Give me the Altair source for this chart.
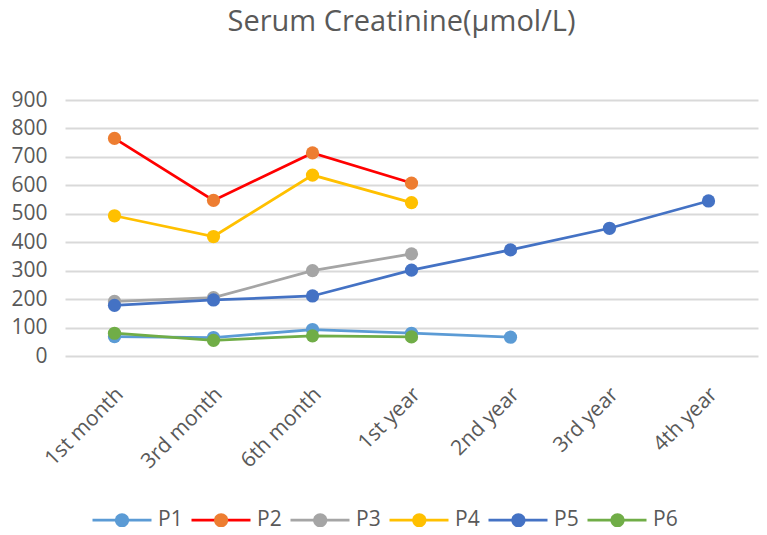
import altair as alt
import pandas as pd

categories = ["1st month", "3rd month", "6th month", "1st year", "2nd year", "3rd year", "4th year"]
series = ["P1", "P2", "P3", "P4", "P5", "P6"]
p1 = [68, 65, 93, 80, 66, None, None]
p2 = [765, 547, 714, 608, None, None, None]
p3 = [192, 205, 300, 359, None, None, None]
p4 = [493, 420, 636, 539, None, None, None]
p5 = [178, 197, 211, 302, 373, 449, 545]
p6 = [80, 55, 71, 67, None, None, None]
y_ticks = [0, 100, 200, 300, 400, 500, 600, 700, 800, 900]

line_colors = ["#5B9BD5", "#FF0000", "#A5A5A5", "#FFC000", "#4472C4", "#70AD47"]
marker_colors = ["#5B9BD5", "#ED7D31", "#A5A5A5", "#FFC000", "#4472C4", "#70AD47"]

rows = []
for name, vals in zip(series, [p1, p2, p3, p4, p5, p6]):
    for i, (cat, v) in enumerate(zip(categories, vals)):
        if v is not None:
            rows.append({"series": name, "marker": name + " ", "period": cat, "value": v, "order": i})
df = pd.DataFrame(rows)
marker_domain = [s + " " for s in series]

FONT = "Open Sans"
TXT = "#595959"

x_enc = alt.X("period:N", sort=categories,
              scale=alt.Scale(type="point", domain=categories, padding=0.5),
              axis=alt.Axis(title=None, labelAngle=-45, labelAlign="right", labelBaseline="middle",
                            labelOffset=5, labelPadding=35, domain=False, ticks=False, grid=False,
                            labelFontSize=21, labelColor=TXT, labelFont=FONT))
y_enc = alt.Y("value:Q", scale=alt.Scale(domain=[0, 900], nice=False, zero=True),
              axis=alt.Axis(title=None, values=y_ticks, domain=False, ticks=False, grid=True,
                            gridColor="#D9D9D9", gridWidth=2, labelPadding=18,
                            labelFontSize=21, labelColor=TXT, labelFont=FONT))

line_path = "M-1,0H1"
circle_path = "M-0.24,0A0.24,0.24,0,1,1,0.24,0A0.24,0.24,0,1,1,-0.24,0Z"

common = dict(title=None, orient="none", direction="horizontal", legendX=26, legendY=389,
              symbolSize=3481, symbolStrokeWidth=2.75,
              labelFontSize=21, labelFont=FONT, padding=0)

leg_lines = alt.Legend(symbolType=line_path, labelColor=TXT, labelOffset=5, columnPadding=3, **common)
leg_marks = alt.Legend(symbolType=circle_path, labelColor=TXT, labelExpr="''", labelOffset=0,
                       columnPadding=37.1, symbolStrokeColor="transparent", **common)

lines = alt.Chart(df).mark_line(strokeWidth=2.75).encode(
    x=x_enc, y=y_enc,
    stroke=alt.Stroke("series:N", scale=alt.Scale(domain=series, range=line_colors), legend=leg_lines),
    order=alt.Order("order:Q"),
)
points = alt.Chart(df).mark_point(filled=True, size=175, opacity=1, strokeWidth=0).encode(
    x=x_enc, y=y_enc,
    fill=alt.Fill("marker:N", scale=alt.Scale(domain=marker_domain, range=marker_colors), legend=leg_marks),
)

chart = alt.layer(lines, points).properties(
    width=693, height=256,
    background="white",
    title=alt.TitleParams("Serum Creatinine(μmol/L)", fontSize=29, font=FONT, color=TXT,
                          fontWeight="normal", anchor="middle", offset=29, baseline="alphabetic", dx=-10),
    autosize=alt.AutoSizeParams(type="none"),
    padding={"left": 57, "top": 92, "right": 1, "bottom": 171},
).configure_view(stroke=None)

chart.save("out.html", embed_options={"renderer": "svg", "actions": False})
